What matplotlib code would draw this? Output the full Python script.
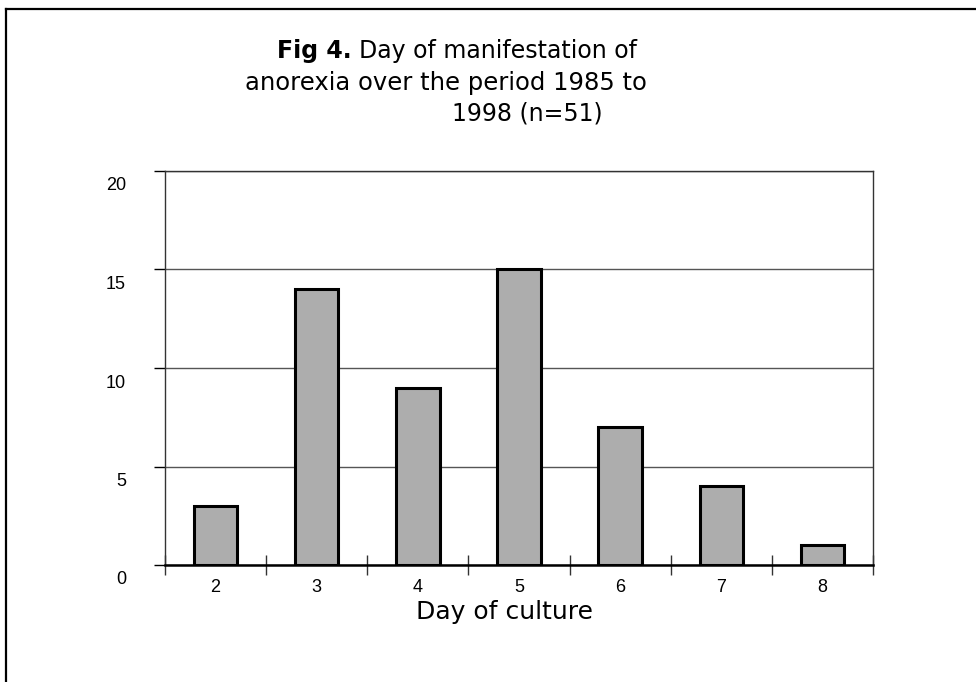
import matplotlib
matplotlib.use("Agg")
import matplotlib.pyplot as plt
import matplotlib.transforms as mtransforms
from matplotlib.lines import Line2D
import numpy as np

plt.rcParams['font.family'] = ['Liberation Sans', 'DejaVu Sans']

days = ["2", "3", "4", "5", "6", "7", "8"]
counts = [3, 14, 9, 15, 7, 4, 1]
y_ticks = [0, 5, 10, 15, 20]
title_bold = "Fig 4."
title_line1 = "Day of manifestation of"
title_line2 = "anorexia over the period 1985 to"
title_line3 = "1998 (n=51)"
x_label = "Day of culture"

W, H = 976, 682
fig = plt.figure(figsize=(W / 100, H / 100), dpi=100)
fig.patch.set_facecolor("white")

# outer frame (left and top edges)
fig.add_artist(Line2D([6 / W, 6 / W], [0, 1 - 9 / H], transform=fig.transFigure, color="black", lw=1.6))
fig.add_artist(Line2D([6 / W, 1], [1 - 9 / H, 1 - 9 / H], transform=fig.transFigure, color="black", lw=1.6))

left, right, bottom, top = 165, 873, 565, 171
ax = fig.add_axes([left / W, 1 - bottom / H, (right - left) / W, (bottom - top) / H])

x = np.arange(len(days))
ax.bar(x, counts, width=0.43, color="#adadad", edgecolor="black", linewidth=2.2, zorder=3)

ax.set_xlim(-0.5, len(days) - 0.5)
ax.set_ylim(0, 20)
ax.set_yticks(y_ticks)
ax.yaxis.grid(True, color="#555555", linewidth=1.0, zorder=0)

ax.set_xticks(x)
ax.set_xticklabels(days, fontsize=13)
ax.tick_params(axis="x", which="major", length=0, pad=10)
ax.set_xticks(np.arange(-0.5, len(days)), minor=True)
ax.tick_params(axis="x", which="minor", length=15, direction="inout", width=1.0, color="#333333")

ax.set_yticklabels([str(v) for v in y_ticks], fontsize=13)
ax.tick_params(axis="y", which="major", length=8, direction="out", width=1.0, pad=20)
offset = mtransforms.ScaledTranslation(0, -13 / 100, fig.dpi_scale_trans)
for lab in ax.get_yticklabels():
    lab.set_transform(lab.get_transform() + offset)

for name, sp in ax.spines.items():
    sp.set_color("#333333")
    sp.set_linewidth(1.0)
ax.spines["bottom"].set_linewidth(1.8)
ax.spines["bottom"].set_color("black")
ax.set_zorder(1)

tfont = ['DejaVu Sans']
fig.text(277 / W, 1 - 58 / H, title_bold, fontsize=17, fontweight="bold", family=tfont, ha="left", va="baseline")
fig.text(359 / W, 1 - 58 / H, title_line1, fontsize=17, family=tfont, ha="left", va="baseline")
fig.text(245 / W, 1 - 90 / H, title_line2, fontsize=17.5, family=tfont, ha="left", va="baseline")
fig.text(452 / W, 1 - 121 / H, title_line3, fontsize=17, family=tfont, ha="left", va="baseline")

fig.text(505 / W, 1 - 619 / H, x_label, fontsize=18, family=tfont, ha="center", va="baseline")

fig.savefig("out.png", dpi=100, facecolor="white")
